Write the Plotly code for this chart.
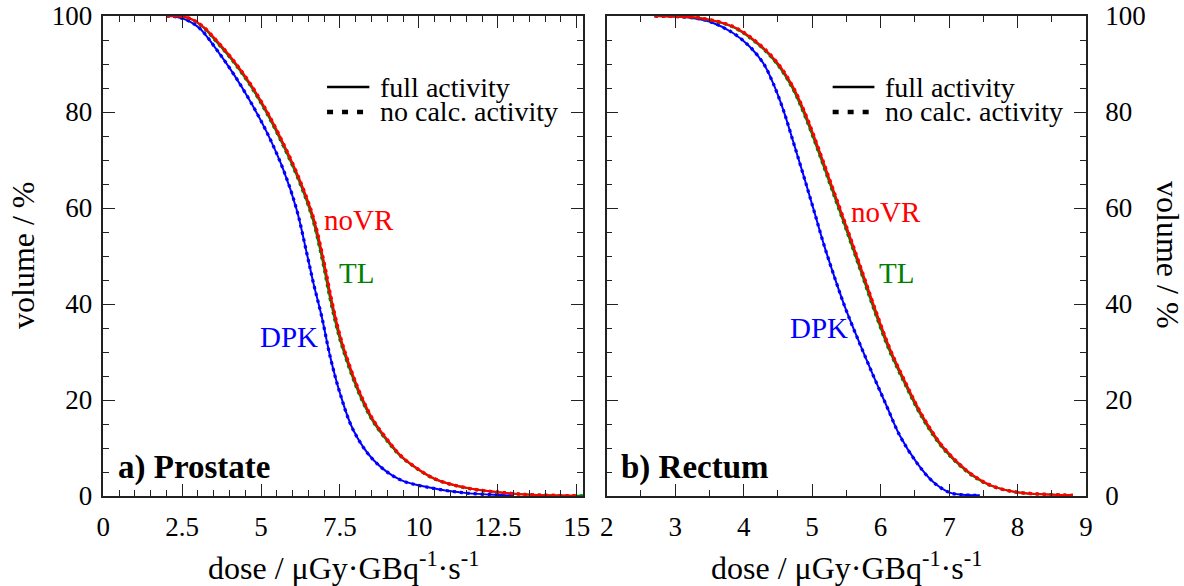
import plotly.graph_objects as go

# ---------------- data ----------------
# a) Prostate
dose_p_dpk = [2.0, 2.33, 2.7, 3.06, 3.59, 4.12, 4.65, 5.18, 5.71, 6.13, 6.45, 6.66, 6.92, 7.19, 7.5, 7.92, 8.56, 9.4, 10.46, 11.52, 12.57, 13.0]
vol_p_dpk = [100, 99.8, 99.0, 97.4, 93.0, 88.0, 82.3, 75.8, 67.9, 59.6, 50.5, 44.3, 37.4, 29.0, 21.4, 13.75, 7.5, 3.4, 1.6, 0.6, 0.2, 0.1]

dose_p_tl = [2.0, 2.5, 2.83, 3.17, 3.55, 4.08, 4.61, 5.14, 5.67, 6.19, 6.62, 6.93, 7.19, 7.46, 7.78, 8.10, 8.52, 9.05, 9.37, 9.70, 10.48, 11.48, 12.5, 13.6, 15.2]
vol_p_tl = [100, 99.9, 99.2, 97.6, 94.9, 90.8, 86.0, 80.2, 73.4, 65.8, 58.0, 49.5, 41.0, 33.5, 26.9, 21.4, 15.8, 11.0, 8.6, 6.8, 3.6, 1.7, 0.8, 0.25, 0.05]

dose_p_novr = [2.0, 2.5, 2.85, 3.2, 3.59, 4.12, 4.65, 5.18, 5.71, 6.23, 6.66, 6.97, 7.23, 7.5, 7.82, 8.14, 8.56, 9.09, 9.4, 9.72, 10.5, 11.5, 12.5, 13.6, 15.0]
vol_p_novr = [100, 99.9, 99.2, 97.6, 94.9, 90.8, 86.0, 80.2, 73.4, 65.8, 58.0, 49.5, 41.0, 33.5, 26.9, 21.4, 15.8, 11.0, 8.6, 6.8, 3.6, 1.7, 0.8, 0.25, 0.05]

# b) Rectum
dose_r_dpk = [2.7, 3.2, 3.51, 3.85, 4.09, 4.29, 4.43, 4.58, 4.72, 4.87, 5.02, 5.18, 5.36, 5.5, 5.7, 5.89, 6.09, 6.28, 6.53, 6.77, 7.01, 7.2, 7.45]
vol_r_dpk = [100, 99.7, 98.8, 96.4, 93.6, 90.1, 86.0, 80.4, 74.0, 67.0, 59.8, 52.0, 44.2, 38.6, 31.6, 25.2, 18.7, 12.6, 6.9, 2.9, 0.7, 0.25, 0.15]

dose_r_tl = [2.7, 3.0, 3.34, 3.83, 4.17, 4.46, 4.70, 4.90, 5.09, 5.29, 5.53, 5.73, 5.92, 6.12, 6.36, 6.60, 6.89, 7.24, 7.48, 7.68, 7.98, 8.47, 8.81]
vol_r_tl = [100, 99.9, 99.6, 97.8, 94.6, 90.5, 85.3, 79.0, 71.8, 63.8, 54.2, 46.0, 38.2, 30.6, 23.2, 16.5, 10.3, 5.3, 3.0, 1.8, 0.8, 0.3, 0.15]

dose_r_novr = [2.7, 3.0, 3.36, 3.85, 4.19, 4.48, 4.72, 4.92, 5.11, 5.31, 5.55, 5.75, 5.94, 6.14, 6.38, 6.62, 6.91, 7.26, 7.5, 7.69, 7.99, 8.47, 8.81]
vol_r_novr = [100, 99.9, 99.6, 97.8, 94.6, 90.5, 85.3, 79.0, 71.8, 63.8, 54.2, 46.0, 38.2, 30.6, 23.2, 16.5, 10.3, 5.3, 3.0, 1.8, 0.8, 0.3, 0.15]

series_names = ["DPK", "TL", "noVR"]
series_colors = ["#0000ff", "#008000", "#ff0000"]
legend_labels = ["full activity", "no calc. activity"]
panel_labels = ["a) Prostate", "b) Rectum"]

x1_tickvals = [0, 2.5, 5, 7.5, 10, 12.5, 15]
x1_ticktext = ["0", "2.5", "5", "7.5", "10", "12.5", "15"]
x2_tickvals = [2, 3, 4, 5, 6, 7, 8, 9]
x2_ticktext = ["2", "3", "4", "5", "6", "7", "8", "9"]
y_tickvals = [0, 20, 40, 60, 80, 100]
y_ticktext = ["0", "20", "40", "60", "80", "100"]

x_title = "dose / \u03bcGy\u00b7GBq<sup>-1</sup>\u00b7s<sup>-1</sup>"
y_title = "volume / %"

FONT = "Liberation Serif"

panels = [
    ("x", "y", [(dose_p_dpk, vol_p_dpk), (dose_p_tl, vol_p_tl), (dose_p_novr, vol_p_novr)]),
    ("x2", "y2", [(dose_r_dpk, vol_r_dpk), (dose_r_tl, vol_r_tl), (dose_r_novr, vol_r_novr)]),
]

fig = go.Figure()
for xa, ya, data in panels:
    for (dx, vy), name, col in zip(data, series_names, series_colors):
        fig.add_trace(go.Scatter(x=dx, y=vy, xaxis=xa, yaxis=ya, mode="lines",
                                 line=dict(color=col, width=2, shape="spline", smoothing=1.0),
                                 showlegend=False, name=name + " full"))
        fig.add_trace(go.Scatter(x=dx, y=vy, xaxis=xa, yaxis=ya, mode="lines",
                                 line=dict(color=col, width=3.2, dash="3px,4px", shape="spline", smoothing=1.0),
                                 showlegend=False, name=name + " no calc"))

axis_common = dict(showline=True, linecolor="#222", linewidth=1.5, mirror="allticks",
                   ticks="inside", ticklen=12, tickwidth=1.3, tickcolor="#222",
                   showgrid=False, zeroline=False, automargin=False,
                   tickfont=dict(family=FONT, size=27, color="black"))

x1d = [103.3 / 1184, 583 / 1184]
x2d = [606.7 / 1184, 1086 / 1184]
yd = [1 - 496 / 586, 1 - 16 / 586]

minor_x = dict(dtick=0.5, tick0=0, ticks="inside", ticklen=6, tickwidth=1.2, tickcolor="#222")
minor_y = dict(dtick=5, tick0=0, ticks="inside", ticklen=6, tickwidth=1.2, tickcolor="#222")

fig.update_layout(
    width=1184, height=586, margin=dict(l=0, r=0, t=0, b=0, autoexpand=False),
    paper_bgcolor="white", plot_bgcolor="white", showlegend=False,
    xaxis=dict(domain=x1d, anchor="y", range=[0, 15.2], tickvals=x1_tickvals, ticktext=x1_ticktext,
               minor=minor_x, ticklabelstandoff=6, **axis_common),
    yaxis=dict(domain=yd, anchor="x", range=[0, 100], tickvals=y_tickvals, ticktext=y_ticktext,
               minor=minor_y, ticklabelstandoff=4, **axis_common),
    xaxis2=dict(domain=x2d, anchor="y2", range=[2, 9], tickvals=x2_tickvals, ticktext=x2_ticktext,
                minor=minor_x, ticklabelstandoff=6, **axis_common),
    yaxis2=dict(domain=yd, anchor="x2", side="right", range=[0, 100], tickvals=y_tickvals, ticktext=y_ticktext,
                minor=minor_y, ticklabelstandoff=12, **axis_common),
)

ann = []
# curve labels
curve_label_pos = [
    ("x", "y", [(5.87, 33.1), (8.03, 46.5), (8.10, 57.5)]),
    ("x2", "y2", [(5.10, 35.0), (6.23, 46.5), (6.085, 59.2)]),
]
for xa, ya, poss in curve_label_pos:
    for (px, py), name, col in zip(poss, series_names, series_colors):
        ann.append(dict(x=px, y=py, xref=xa, yref=ya, text=name, showarrow=False,
                        xanchor="center", yanchor="middle",
                        font=dict(family=FONT, size=29, color=col)))
# panel labels
for (xa, ya, xx), lab in zip([("x", "y", 0.40), ("x2", "y2", 2.18)], panel_labels):
    ann.append(dict(x=xx, y=6.0, xref=xa, yref=ya, text="<b>" + lab + "</b>", showarrow=False,
                    xanchor="left", yanchor="middle", font=dict(family=FONT, size=33, color="black")))
# legend text + sample lines
shapes = []
for xa, ya, l0, l1, tx in [("x", "y", 7.09, 8.43, 8.70), ("x2", "y2", 5.30, 5.91, 6.04)]:
    for (yy, lab, dash) in [(85.2, legend_labels[0], "solid"), (80.0, legend_labels[1], "dot")]:
        ann.append(dict(x=tx, y=yy, xref=xa, yref=ya, text=lab, showarrow=False,
                        xanchor="left", yanchor="middle",
                        font=dict(family=FONT, size=28, color="black")))
        shapes.append(dict(type="line", xref=xa, yref=ya, x0=l0, x1=l1, y0=yy, y1=yy,
                           line=dict(color="black", width=2.5 if dash == "solid" else 4.5,
                                     dash="solid" if dash == "solid" else "6px,9px")))
# axis titles
for cx in [(x1d[0] + x1d[1]) / 2, (x2d[0] + x2d[1]) / 2]:
    ann.append(dict(x=cx, y=1 - 566 / 586, xref="paper", yref="paper", text=x_title, showarrow=False,
                    xanchor="center", yanchor="middle", font=dict(family=FONT, size=32, color="black")))
ann.append(dict(x=23 / 1184, y=1 - 255 / 586, xref="paper", yref="paper", text=y_title, showarrow=False,
                xanchor="center", yanchor="middle",
                textangle=-90, font=dict(family=FONT, size=32, color="black")))
ann.append(dict(x=1168 / 1184, y=1 - 255 / 586, xref="paper", yref="paper", text=y_title, showarrow=False,
                xanchor="center", yanchor="middle",
                textangle=90, font=dict(family=FONT, size=32, color="black")))

fig.update_layout(annotations=ann, shapes=shapes)
fig.write_html("out.html")
